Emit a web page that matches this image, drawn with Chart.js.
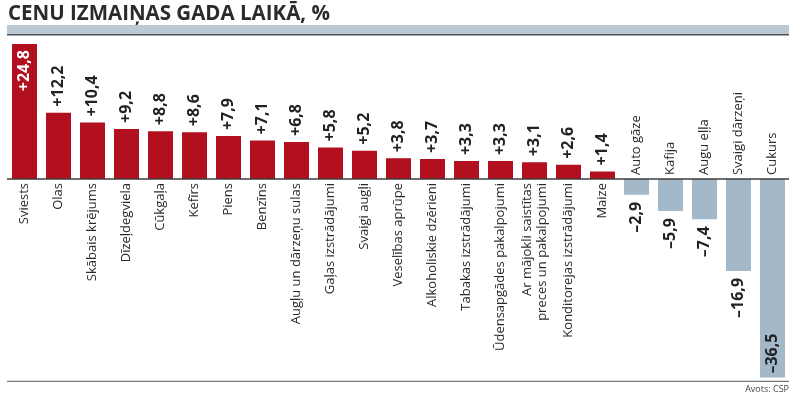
<!DOCTYPE html>
<html>
<head>
<meta charset="utf-8">
<script src="https://cdn.jsdelivr.net/npm/chart.js@4/dist/chart.umd.min.js"></script>
<style>
  html, body { margin: 0; padding: 0; background: #fff; }
  #wrap { position: relative; width: 805px; height: 398px; }
</style>
</head>
<body>
<div id="wrap"><canvas id="c" width="805" height="398"></canvas></div>
<script>
const titleText = "CENU IZMAIŅAS GADA LAIKĀ, %";
const sourceText = "Avots: CSP";
const categories = [
  "Sviests", "Olas", "Skābais krējums", "Dīzeļdegviela", "Cūkgaļa", "Kefīrs",
  "Piens", "Benzīns", "Augļu un dārzeņu sulas", "Gaļas izstrādājumi",
  "Svaigi augļi", "Veselības aprūpe", "Alkoholiskie dzērieni",
  "Tabakas izstrādājumi", "Ūdensapgādes pakalpojumi",
  ["Ar mājokli saistītas", "preces un pakalpojumi"],
  "Konditorejas izstrādājumi", "Maize", "Auto gāze", "Kafija", "Augu eļļa",
  "Svaigi dārzeņi", "Cukurs"
];
const values = [
  24.8, 12.2, 10.4, 9.2, 8.8, 8.6, 7.9, 7.1, 6.8, 5.8, 5.2, 3.8, 3.7, 3.3,
  3.3, 3.1, 2.6, 1.4, -2.9, -5.9, -7.4, -16.9, -36.5
];
const yMin = -37;
const yMax = 25;

const RED = "#b20f1f";
const BLUE = "#a3b8c9";

function fmt(v) {
  const s = Math.abs(v).toFixed(1).replace(".", ",");
  return (v >= 0 ? "+" : "\u2013") + s;
}

const labelPlugin = {
  id: "labels",
  afterDatasetsDraw(chart) {
    const ctx = chart.ctx;
    const y0 = chart.scales.y.getPixelForValue(0);
    const yb = chart.scales.y.getPixelForValue(yMin);
    const meta = chart.getDatasetMeta(0);
    const last = meta.data[meta.data.length - 1];
    const xL = 7, xR = last.x + last.width / 2 + 4;

    ctx.save();
    // title
    ctx.fillStyle = "#2b2b2b";
    ctx.font = "bold 20.5px 'Open Sans'";
    ctx.textAlign = "left";
    ctx.textBaseline = "alphabetic";
    ctx.fillText(titleText, 8, 20);
    // band
    ctx.fillStyle = "#bac9d3";
    ctx.fillRect(xL, 25, xR - xL, 9);
    ctx.fillStyle = "#4d5358";
    ctx.fillRect(xL, 34, xR - xL, 1.5);
    // zero line and bottom line
    ctx.strokeStyle = "#3c3c3c";
    ctx.lineWidth = 1.5;
    ctx.beginPath(); ctx.moveTo(xL, y0); ctx.lineTo(xR, y0); ctx.stroke();
    ctx.strokeStyle = "#555";
    ctx.lineWidth = 1;
    ctx.beginPath(); ctx.moveTo(xL, yb + 1); ctx.lineTo(xR, yb + 1); ctx.stroke();
    // source
    ctx.fillStyle = "#444";
    ctx.font = "9px 'Open Sans'";
    ctx.textAlign = "right";
    ctx.textBaseline = "middle";
    ctx.fillText(sourceText, xR, yb + 9);

    meta.data.forEach((bar, i) => {
      const v = values[i];
      const cat = categories[i];
      // category label
      ctx.save();
      ctx.fillStyle = "#2a2a2a";
      ctx.font = "13px 'Open Sans'";
      ctx.textBaseline = "middle";
      const oy = v >= 0 ? y0 + 4 : y0 - 4;
      ctx.translate(bar.x, oy);
      ctx.rotate(-Math.PI / 2);
      ctx.textAlign = v >= 0 ? "right" : "left";
      const lines = Array.isArray(cat) ? cat : [cat];
      const lh = 15;
      lines.forEach((ln, k) => {
        ctx.fillText(ln, 0, (k - (lines.length - 1) / 2) * lh);
      });
      ctx.restore();

      // value label
      ctx.save();
      ctx.font = "bold 16px 'Open Sans'";
      ctx.textBaseline = "middle";
      const inside = Math.abs(v) > 20;
      let vy, align;
      if (v >= 0) {
        if (inside) { vy = bar.y + 6; align = "right"; ctx.fillStyle = "#fff"; }
        else { vy = bar.y - 6; align = "left"; ctx.fillStyle = "#222"; }
      } else {
        if (inside) { vy = bar.y - 4; align = "left"; ctx.fillStyle = "#222"; }
        else { vy = bar.y + 7; align = "right"; ctx.fillStyle = "#222"; }
      }
      ctx.translate(bar.x, vy);
      ctx.rotate(-Math.PI / 2);
      ctx.textAlign = align;
      ctx.fillText(fmt(v), 0, 0);
      ctx.restore();
    });
    ctx.restore();
  }
};

new Chart(document.getElementById("c"), {
  type: "bar",
  data: {
    labels: categories,
    datasets: [{
      data: values,
      backgroundColor: values.map(v => v >= 0 ? RED : BLUE),
      borderWidth: 0,
      categoryPercentage: 1,
      barPercentage: 0.735
    }]
  },
  options: {
    responsive: false,
    animation: false,
    layout: { padding: { left: 7.5, right: 15.5, top: 43, bottom: 17.7 } },
    plugins: { legend: { display: false }, tooltip: { enabled: false }, title: { display: false } },
    scales: {
      x: { display: false },
      y: { display: false, min: yMin, max: yMax }
    }
  },
  plugins: [labelPlugin]
});
</script>
</body>
</html>
